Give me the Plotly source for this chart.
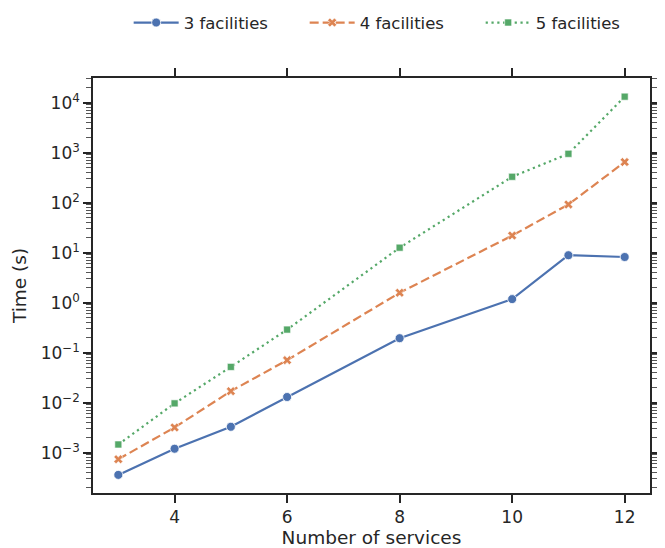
import plotly.graph_objects as go

services = [3, 4, 5, 6, 8, 10, 11, 12]
time_3 = [3.6e-4, 1.2e-3, 3.3e-3, 1.3e-2, 0.195, 1.18, 8.9, 8.2]
time_4 = [7.4e-4, 3.2e-3, 1.7e-2, 7.1e-2, 1.58, 22, 92, 650]
time_5 = [1.46e-3, 9.7e-3, 5.2e-2, 0.29, 12.6, 330, 950, 13200]

series_names = ["3 facilities", "4 facilities", "5 facilities"]
x_ticks = [4, 6, 8, 10, 12]
y_exps = [-3, -2, -1, 0, 1, 2, 3, 4]

colors = ["#4C72B0", "#DD8452", "#55A868"]
ink = "#262626"

fig = go.Figure()
fig.add_trace(go.Scatter(
    x=services, y=time_3, name=series_names[0], mode="lines+markers",
    line=dict(color=colors[0], width=2.2),
    marker=dict(symbol="circle", size=9, color=colors[0], line=dict(color="white", width=0.8)),
))
fig.add_trace(go.Scatter(
    x=services, y=time_4, name=series_names[1], mode="lines+markers",
    line=dict(color=colors[1], width=2.2, dash="9px,4px"),
    marker=dict(symbol="x", size=8, color=colors[1], line=dict(color="white", width=0.6)),
))
fig.add_trace(go.Scatter(
    x=services, y=time_5, name=series_names[2], mode="lines+markers",
    line=dict(color=colors[2], width=2.2, dash="2.2px,3.6px"),
    marker=dict(symbol="square", size=7, color=colors[2], line=dict(color="white", width=0.6)),
))

minor_vals = [m * 10 ** e for e in range(-4, 5) for m in range(2, 10)]

# page body has an 8px default margin, so the figure is sized to fit the window
fig.update_layout(
    width=657, height=540,
    margin=dict(l=85, r=15, t=70, b=55, autoexpand=False),
    paper_bgcolor="white", plot_bgcolor="white",
    font=dict(family="DejaVu Sans", size=16, color=ink),
    showlegend=True,
    legend=dict(orientation="h", x=0.538, xanchor="center", y=1.133, yanchor="middle",
                font=dict(size=16.5, color=ink), bgcolor="rgba(0,0,0,0)",
                entrywidth=116, itemwidth=45),
)
fig.update_xaxes(
    range=[2.55, 12.45], tickvals=x_ticks, ticktext=[str(v) for v in x_ticks],
    showgrid=False, zeroline=False, showline=True, linecolor=ink, linewidth=1.6,
    mirror="allticks", ticks="outside", ticklen=8, tickwidth=1.5, tickcolor=ink,
    tickfont=dict(size=17, color=ink), automargin=False,
    title=dict(text="Number of services", font=dict(size=18.5, color=ink), standoff=5),
)
fig.update_yaxes(
    type="log", range=[-3.806, 4.494],
    tickvals=[10 ** e for e in y_exps],
    ticktext=["10<sup>%d</sup>" % e if e >= 0 else "10<sup>\u2212%d</sup>" % (-e) for e in y_exps],
    showgrid=False, zeroline=False, showline=True, linecolor=ink, linewidth=1.6,
    mirror="allticks", ticks="outside", ticklen=8, tickwidth=1.5, tickcolor=ink,
    tickfont=dict(size=17, color=ink), automargin=False,
    minor=dict(tickvals=minor_vals, ticks="outside", ticklen=5, tickwidth=1, tickcolor="#555555", showgrid=False),
    title=dict(text="Time (s)", font=dict(size=18.5, color=ink), standoff=9),
)

fig.write_html("out.html")
